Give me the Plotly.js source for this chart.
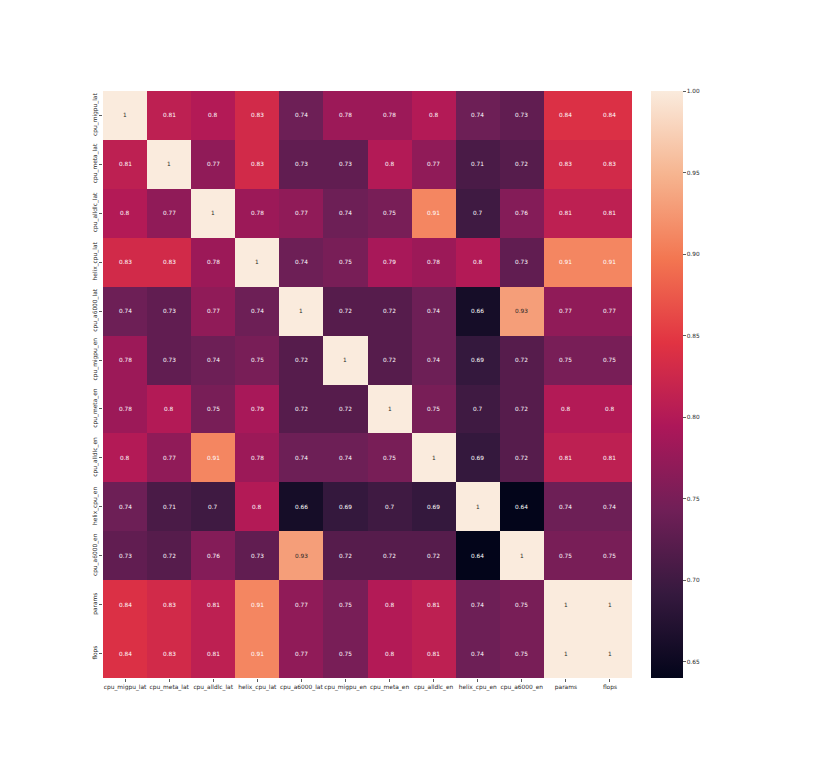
<!DOCTYPE html>
<html>
<head>
<meta charset="utf-8">
<script src="https://cdn.plot.ly/plotly-3.0.1.min.js"></script>
<style>html,body{margin:0;padding:0;background:#fff;}#chart{width:830px;height:763px;}</style>
</head>
<body>
<div id="chart"></div>
<script>
const labels = ["cpu_migpu_lat","cpu_meta_lat","cpu_alldlc_lat","helix_cpu_lat","cpu_a6000_lat","cpu_migpu_en","cpu_meta_en","cpu_alldlc_en","helix_cpu_en","cpu_a6000_en","params","flops"];
const row_cpu_migpu_lat = [1,0.81,0.8,0.83,0.74,0.78,0.78,0.8,0.74,0.73,0.84,0.84];
const row_cpu_meta_lat  = [0.81,1,0.77,0.83,0.73,0.73,0.8,0.77,0.71,0.72,0.83,0.83];
const row_cpu_alldlc_lat= [0.8,0.77,1,0.78,0.77,0.74,0.75,0.91,0.7,0.76,0.81,0.81];
const row_helix_cpu_lat = [0.83,0.83,0.78,1,0.74,0.75,0.79,0.78,0.8,0.73,0.91,0.91];
const row_cpu_a6000_lat = [0.74,0.73,0.77,0.74,1,0.72,0.72,0.74,0.66,0.93,0.77,0.77];
const row_cpu_migpu_en  = [0.78,0.73,0.74,0.75,0.72,1,0.72,0.74,0.69,0.72,0.75,0.75];
const row_cpu_meta_en   = [0.78,0.8,0.75,0.79,0.72,0.72,1,0.75,0.7,0.72,0.8,0.8];
const row_cpu_alldlc_en = [0.8,0.77,0.91,0.78,0.74,0.74,0.75,1,0.69,0.72,0.81,0.81];
const row_helix_cpu_en  = [0.74,0.71,0.7,0.8,0.66,0.69,0.7,0.69,1,0.64,0.74,0.74];
const row_cpu_a6000_en  = [0.73,0.72,0.76,0.73,0.93,0.72,0.72,0.72,0.64,1,0.75,0.75];
const row_params        = [0.84,0.83,0.81,0.91,0.77,0.75,0.8,0.81,0.74,0.75,1,1];
const row_flops         = [0.84,0.83,0.81,0.91,0.77,0.75,0.8,0.81,0.74,0.75,1,1];
const colorbarTicks = [0.65,0.70,0.75,0.80,0.85,0.90,0.95,1.00];

const z = [row_cpu_migpu_lat,row_cpu_meta_lat,row_cpu_alldlc_lat,row_helix_cpu_lat,row_cpu_a6000_lat,row_cpu_migpu_en,row_cpu_meta_en,row_cpu_alldlc_en,row_helix_cpu_en,row_cpu_a6000_en,row_params,row_flops];

const rocket = [
  [0.0,"#03051a"],[0.143,"#35193e"],[0.286,"#701f57"],[0.429,"#ad1759"],
  [0.571,"#e13342"],[0.714,"#f37651"],[0.857,"#f6b48f"],[1.0,"#faebdd"]
];

const annotations = [];
z.forEach((row,i)=>row.forEach((v,j)=>{
  annotations.push({x:labels[j], y:labels[i], xref:'x', yref:'y', text:String(v), showarrow:false,
    font:{family:'DejaVu Sans', size:5.8, color: v>=0.93 ? '#262626' : '#ffffff'}});
}));

const trace = {
  type:'heatmap', x:labels, y:labels, z:z, zmin:0.64, zmax:1.0,
  colorscale:rocket, hoverinfo:'skip',
  colorbar:{x:1.036, xanchor:'left', y:0.5, yanchor:'middle', len:1, lenmode:'fraction',
    thickness:32, thicknessmode:'pixels', outlinewidth:0, ticks:'outside', ticklen:3, tickwidth:0.8,
    tickcolor:'#333', tickvals:colorbarTicks, tickformat:'.2f',
    tickfont:{family:'DejaVu Sans', size:5.8, color:'#262626'}, xpad:0, ypad:0}
};

const layout = {
  width:830, height:763, paper_bgcolor:'#ffffff', plot_bgcolor:'#ffffff',
  margin:{l:103, r:198, t:91, b:85},
  xaxis:{type:'category', ticks:'outside', ticklen:3, tickwidth:0.8, tickcolor:'#333', tickangle:0,
    tickfont:{family:'DejaVu Sans', size:5.9, color:'#262626'}, showgrid:false, zeroline:false, showline:false},
  yaxis:{type:'category', autorange:'reversed', ticks:'outside', ticklen:3, tickwidth:0.8, tickcolor:'#333', tickangle:-90,
    tickfont:{family:'DejaVu Sans', size:5.9, color:'#262626'}, showgrid:false, zeroline:false, showline:false},
  annotations:annotations,
  font:{family:'DejaVu Sans'}
};

Plotly.newPlot('chart',[trace],layout,{displayModeBar:false, staticPlot:true});
</script>
</body>
</html>
